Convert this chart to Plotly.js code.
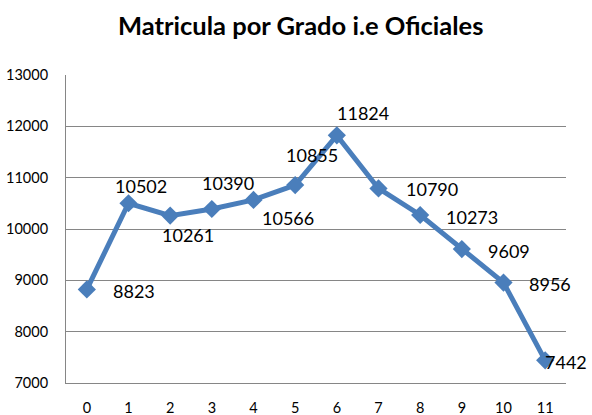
<!DOCTYPE html>
<html><head><meta charset="utf-8">
<script src="https://cdn.plot.ly/plotly-3.0.1.min.js"></script>
<style>html,body{margin:0;padding:0;background:#fff}#c{width:592px;height:415px}</style>
</head><body><div id="c"></div>
<script>
const grades = [0,1,2,3,4,5,6,7,8,9,10,11];
const enrollment = [8823,10502,10261,10390,10566,10855,11824,10790,10273,9609,8956,7442];
const yTicks = [7000,8000,9000,10000,11000,12000,13000];

// label offsets (pixels) relative to markers – styling only
const labelDx = [47,12,18,16,34,17,26,53,52,47,46,21];
const labelDy = [2,-17,19,-26,18,-30,-22,1,2,2,1,2];

const annotations = grades.map((g,i)=>({
  x: g, y: enrollment[i], xref:'x', yref:'y',
  text: String(enrollment[i]), showarrow:false,
  xshift: labelDx[i], yshift: -labelDy[i],
  font:{family:'Lato, sans-serif', size:18, color:'#000'}
}));

Plotly.newPlot('c', [{
  x: grades, y: enrollment, type:'scatter', mode:'lines+markers',
  line:{color:'#4A7EBB', width:5},
  marker:{symbol:'diamond', size:14, color:'#4A7EBB'},
  hoverinfo:'none', cliponaxis:false
}], {
  width:592, height:415,
  margin:{l:66, r:26, t:75, b:32},
  paper_bgcolor:'#fff', plot_bgcolor:'#fff',
  showlegend:false,
  title:{text:'<b>Matricula por Grado i.e Oficiales</b>', x:0.508, xanchor:'center', y:0.937, yanchor:'middle',
    font:{family:'Lato, sans-serif', size:25.5, color:'#000'}},
  xaxis:{type:'linear', range:[-0.5,11.5], tickvals:grades, ticktext:grades.map(String),
    showgrid:false, zeroline:false, showline:true, linecolor:'#868686', linewidth:1,
    ticks:'', ticklabelstandoff:12, tickfont:{family:'Lato, sans-serif', size:14.5, color:'#000'}},
  yaxis:{range:[7000,13000], tickvals:yTicks, ticktext:yTicks.map(String),
    showgrid:true, gridcolor:'#868686', gridwidth:1, zeroline:false,
    showline:true, linecolor:'#868686', linewidth:1,
    ticks:'', ticklabelstandoff:14, tickfont:{family:'Lato, sans-serif', size:14.5, color:'#000'}},
  annotations: annotations
}, {staticPlot:true});
</script></body></html>
